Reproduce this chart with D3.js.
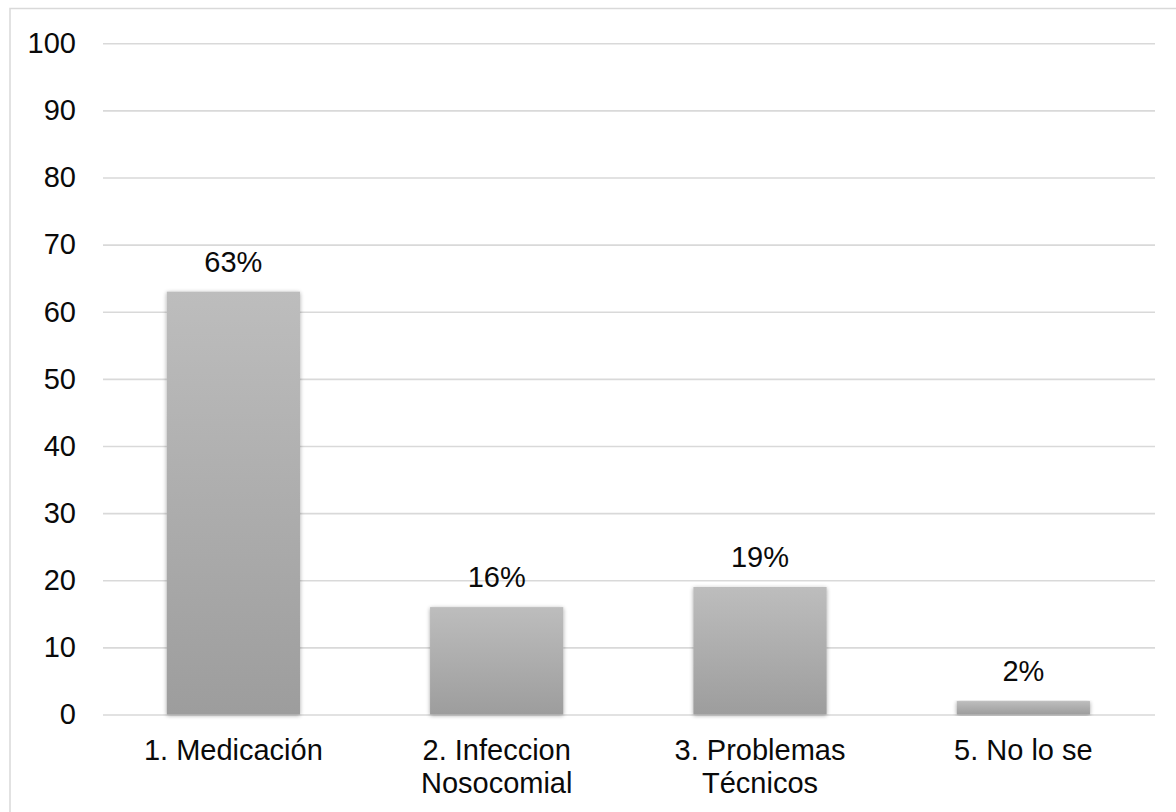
<!DOCTYPE html>
<html>
<head>
<meta charset="utf-8">
<script src="https://cdn.jsdelivr.net/npm/d3@7"></script>
<style>
  html, body { margin: 0; padding: 0; background: #fff; }
  svg { display: block; font-family: "Liberation Sans", Arial, sans-serif; }
</style>
</head>
<body>
<svg id="chart" width="1176" height="812"></svg>
<script>
// Categories (each may wrap onto two lines) and their percentages
const categories = ["1. Medicación", "2. Infeccion Nosocomial", "3. Problemas Técnicos", "5. No lo se"];
const categoryLines = [["1. Medicación"], ["2. Infeccion", "Nosocomial"], ["3. Problemas", "Técnicos"], ["5. No lo se"]];
const values = [63, 16, 19, 2];
const dataLabels = ["63%", "16%", "19%", "2%"];
const yTicks = [0, 10, 20, 30, 40, 50, 60, 70, 80, 90, 100];

const svg = d3.select("#chart");
const W = 1176, H = 812;
const FS = 29;

// Outer chart frame
svg.append("rect")
  .attr("x", 10).attr("y", 8.5)
  .attr("width", W).attr("height", H)
  .attr("fill", "none").attr("stroke", "#d9d9d9").attr("stroke-width", 1.5);

const x = d3.scaleBand().domain(categories).range([101.7, 1155]).padding(0.494).paddingOuter(0.247);
const y = d3.scaleLinear().domain([0, 100]).range([714.5, 43.3]);

const defs = svg.append("defs");
const grad = defs.append("linearGradient")
  .attr("id", "barGrad").attr("x1", 0).attr("y1", 0).attr("x2", 0).attr("y2", 1);
grad.append("stop").attr("offset", "0%").attr("stop-color", "#bdbdbd");
grad.append("stop").attr("offset", "100%").attr("stop-color", "#9d9d9d");

const shadow = defs.append("filter").attr("id", "barShadow")
  .attr("x", "-10%").attr("y", "-10%").attr("width", "120%").attr("height", "120%");
shadow.append("feGaussianBlur").attr("in", "SourceAlpha").attr("stdDeviation", 2.2).attr("result", "b");
shadow.append("feOffset").attr("in", "b").attr("dx", 0).attr("dy", 1).attr("result", "o");
shadow.append("feComponentTransfer").attr("in", "o").attr("result", "s")
  .append("feFuncA").attr("type", "linear").attr("slope", 0.35);
const merge = shadow.append("feMerge");
merge.append("feMergeNode").attr("in", "s");
merge.append("feMergeNode").attr("in", "SourceGraphic");

// Gridlines and y tick labels
const yAxis = d3.axisLeft(y).tickValues(yTicks).tickSize(-(1155 - 103)).tickPadding(27);
const gy = svg.append("g").attr("transform", "translate(103,0)").call(yAxis);
gy.select(".domain").remove();
gy.selectAll(".tick line").attr("stroke", "#d9d9d9").attr("stroke-width", 1.6);
gy.selectAll(".tick text")
  .attr("font-size", FS).attr("fill", "#0a0a0a")
  .attr("font-family", "'Liberation Sans', Arial, sans-serif");

// Bars
svg.append("g").selectAll("rect")
  .data(values)
  .join("rect")
  .attr("x", (d, i) => x(categories[i]))
  .attr("y", d => y(d))
  .attr("width", x.bandwidth())
  .attr("height", d => y(0) - y(d))
  .attr("fill", "url(#barGrad)")
  .attr("filter", "url(#barShadow)");

// Value labels above bars
svg.append("g").selectAll("text")
  .data(values)
  .join("text")
  .attr("x", (d, i) => x(categories[i]) + x.bandwidth() / 2)
  .attr("y", d => y(d) - 20)
  .attr("text-anchor", "middle")
  .attr("font-size", FS)
  .attr("fill", "#0a0a0a")
  .text((d, i) => dataLabels[i]);

// Category labels under the axis
const xl = svg.append("g");
categories.forEach((c, i) => {
  const t = xl.append("text")
    .attr("x", x(c) + x.bandwidth() / 2)
    .attr("y", 760)
    .attr("text-anchor", "middle")
    .attr("font-size", FS)
    .attr("fill", "#0a0a0a");
  categoryLines[i].forEach((line, k) => {
    t.append("tspan")
      .attr("x", x(c) + x.bandwidth() / 2)
      .attr("dy", k === 0 ? 0 : 33)
      .text(line);
  });
});
</script>
</body>
</html>
